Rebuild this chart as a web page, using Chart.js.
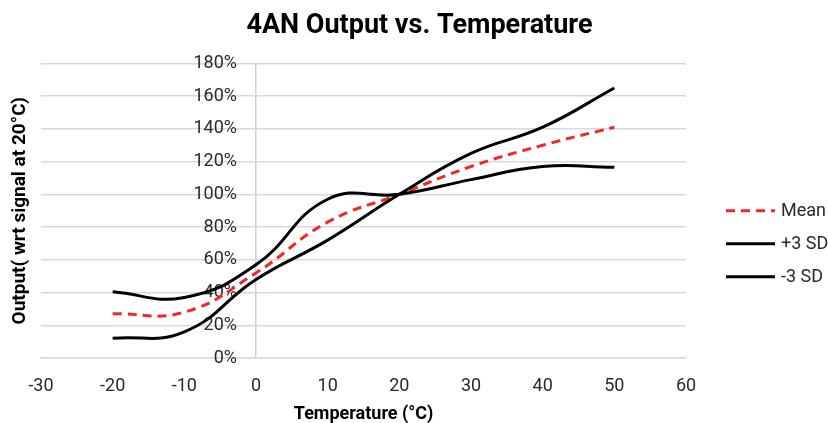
<!DOCTYPE html>
<html>
<head>
<meta charset="utf-8">
<script src="https://cdn.jsdelivr.net/npm/chart.js@4.4.1/dist/chart.umd.min.js"></script>
<style>
  html, body { margin: 0; padding: 0; background: #fff; }
  #wrap { width: 828px; height: 423px; }
</style>
</head>
<body>
<div id="wrap"><canvas id="chart" width="828" height="423"></canvas></div>
<script>
// values (output in % of signal at 20 °C)
const temps = [-20, -10, 0, 10, 20, 30, 40, 50];
const meanVals = [27, 28, 52, 83, 100, 117, 130, 141];
const sdPlus3 = [12, 16, 48, 72, 100, 125, 141, 165];
const sdMinus3 = [40.5, 37, 57, 97, 100, 109, 117, 116.5];
const seriesLabels = ['Mean', '+3 SD', '-3 SD'];

const xMin = -30, xMax = 60, xStep = 10;
const yMin = 0, yMax = 180, yStep = 20;

const TXT = '#2a2a2a';
const GRID = '#d9d9d9';

function pts(vals) {
    return temps.map((t, i) => ({ x: t, y: vals[i] }));
}

// simple legend drawn to the right of the plot, like Excel does it
const sideLegend = {
    id: 'sideLegend',
    afterDraw(chart) {
        const ctx = chart.ctx;
        const area = chart.chartArea;
        const x0 = area.right + 40;
        let y = (area.top + area.bottom) / 2;
        ctx.save();
        ctx.font = '18px Roboto';
        ctx.textBaseline = 'middle';
        ctx.fillStyle = TXT;
        chart.data.datasets.forEach(ds => {
            ctx.beginPath();
            ctx.setLineDash(ds.borderDash || []);
            ctx.strokeStyle = ds.borderColor;
            ctx.lineWidth = ds.borderWidth;
            ctx.moveTo(x0, y);
            ctx.lineTo(x0 + 49, y);
            ctx.stroke();
            ctx.setLineDash([]);
            ctx.fillText(ds.label, x0 + 55, y + 1);
            y += 33;
        });
        ctx.restore();
    }
};

let ctx = document.getElementById('chart').getContext('2d');
let config = {
    type: 'line',
    data: {
        datasets: [
            {
                label: seriesLabels[0],
                data: pts(meanVals),
                borderColor: '#f0282a',
                borderWidth: 3,
                borderDash: [9, 6],
                order: 2
            },
            {
                label: seriesLabels[1],
                data: pts(sdPlus3),
                borderColor: '#000',
                borderWidth: 3,
                order: 1
            },
            {
                label: seriesLabels[2],
                data: pts(sdMinus3),
                borderColor: '#000',
                borderWidth: 3,
                order: 0
            }
        ]
    },
    options: {
        responsive: false,
        animation: false,
        devicePixelRatio: 1,
        elements: {
            point: { radius: 0 },
            line: { tension: 0.45, fill: false, borderCapStyle: 'butt' }
        },
        layout: {
            padding: { left: 11, right: 0, top: 4, bottom: 0 }
        },
        scales: {
            x: {
                type: 'linear',
                min: xMin,
                max: xMax,
                // only the vertical line at 0 °C is shown
                grid: {
                    drawTicks: false,
                    lineWidth: 1.5,
                    color: c => (c.tick && c.tick.value === 0) ? '#cfcfcf' : 'rgba(0,0,0,0)'
                },
                border: { display: true, color: GRID, width: 1.5 },
                ticks: {
                    stepSize: xStep,
                    color: TXT,
                    padding: 19,
                    font: { family: 'Roboto', size: 18, lineHeight: 1 }
                },
                title: {
                    display: true,
                    text: 'Temperature (°C)',
                    color: '#000',
                    padding: { top: -9, bottom: 0 },
                    font: { family: 'Roboto', size: 18, weight: 'bold', lineHeight: 1 }
                }
            },
            y: {
                type: 'linear',
                // labels sit just left of the 0 °C line
                position: { x: -2.65 },
                min: yMin,
                max: yMax,
                grid: { color: GRID, lineWidth: 1.5, drawTicks: false },
                border: { display: false },
                ticks: {
                    stepSize: yStep,
                    color: TXT,
                    font: { family: 'Roboto', size: 18 },
                    callback: v => v + '%'
                }
            },
            yTitle: {
                type: 'linear',
                position: 'left',
                grid: { display: false, drawTicks: false },
                border: { display: false },
                ticks: { display: false },
                title: {
                    display: true,
                    text: 'Output( wrt signal at 20°C)',
                    color: '#000',
                    padding: { top: 0, bottom: 11 },
                    font: { family: 'Roboto', size: 19, weight: 'bold', lineHeight: 1 }
                }
            },
            // empty strip on the right that holds the legend
            legendSpace: {
                type: 'linear',
                position: 'right',
                grid: { display: false, drawTicks: false },
                border: { display: false },
                ticks: { display: false },
                afterFit: s => { s.width = 142; }
            }
        },
        plugins: {
            legend: { display: false },
            tooltip: { enabled: false },
            title: {
                display: true,
                text: '4AN Output vs. Temperature',
                color: '#000',
                padding: { top: 6, bottom: 21 },
                font: { family: 'Roboto', size: 27, weight: 'bold' }
            }
        }
    },
    plugins: [sideLegend]
};

new Chart(ctx, config);
</script>
</body>
</html>
